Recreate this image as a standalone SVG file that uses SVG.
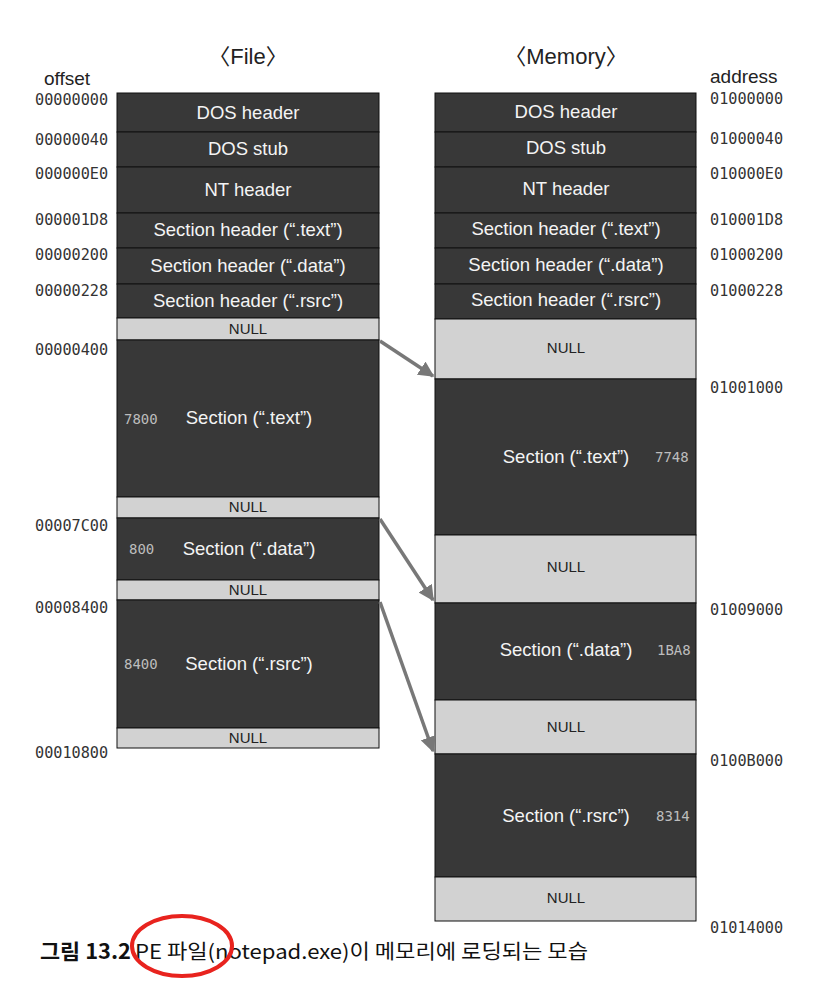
<svg xmlns="http://www.w3.org/2000/svg" width="822" height="1004" viewBox="0 0 822 1004">
<style>
.dk{fill:#383838;stroke:#111;stroke-width:1}
.nl{fill:#d2d2d2;stroke:#111;stroke-width:1}
.lbl{font-family:"Liberation Sans",Arial,sans-serif;font-size:18.5px;fill:#f4f4f4;text-anchor:middle}
.nlt{font-family:"Liberation Sans",Arial,sans-serif;font-size:15px;fill:#222;text-anchor:middle}
.adr{font-family:"DejaVu Sans Mono",monospace;font-size:15.2px;fill:#333}
.sz{font-family:"DejaVu Sans Mono",monospace;font-size:14px;fill:#bdbdbd}
.ttl{font-family:"Liberation Sans","Noto Sans CJK KR",sans-serif;font-size:22px;fill:#222;text-anchor:middle}
.hd{font-family:"Liberation Sans",Arial,sans-serif;font-size:19px;fill:#222}
.arr{stroke:#787878;stroke-width:3.5;fill:none;marker-end:url(#ah)}
</style>
<defs>
<marker id="ah" viewBox="0 0 10 10" refX="9" refY="5" markerWidth="4.5" markerHeight="4.5" orient="auto" markerUnits="strokeWidth">
<path d="M0,0 L10,5 L0,10 z" fill="#787878"/>
</marker>
</defs>
<rect width="822" height="1004" fill="#fff"/>
<text class="ttl" x="248" y="64">〈File〉</text>
<text class="ttl" x="566" y="64">〈Memory〉</text>
<text class="hd" x="44" y="85">offset</text>
<text class="hd" x="710" y="83">address</text>

<g id="file">
<g id="f-dos-header"><rect class="dk" x="117" y="93" width="262" height="39"/><text class="lbl" x="248" y="119">DOS header</text></g>
<g id="f-dos-stub"><rect class="dk" x="117" y="132" width="262" height="35"/><text class="lbl" x="248" y="155">DOS stub</text></g>
<g id="f-nt-header"><rect class="dk" x="117" y="167" width="262" height="46"/><text class="lbl" x="248" y="196">NT header</text></g>
<g id="f-sh-text"><rect class="dk" x="117" y="213" width="262" height="35"/><text class="lbl" x="248" y="236">Section header (“.text”)</text></g>
<g id="f-sh-data"><rect class="dk" x="117" y="248" width="262" height="36"/><text class="lbl" x="248" y="272">Section header (“.data”)</text></g>
<g id="f-sh-rsrc"><rect class="dk" x="117" y="284" width="262" height="34"/><text class="lbl" x="248" y="307">Section header (“.rsrc”)</text></g>
<g id="f-null1"><rect class="nl" x="117" y="318" width="262" height="22"/><text class="nlt" x="248" y="334">NULL</text></g>
<g id="f-text"><rect class="dk" x="117" y="340" width="262" height="157"/><text class="lbl" x="249" y="424">Section (“.text”)</text><text class="sz" x="124" y="424">7800</text></g>
<g id="f-null2"><rect class="nl" x="117" y="497" width="262" height="21"/><text class="nlt" x="248" y="512">NULL</text></g>
<g id="f-data"><rect class="dk" x="117" y="518" width="262" height="62"/><text class="lbl" x="249" y="555">Section (“.data”)</text><text class="sz" x="129" y="554">800</text></g>
<g id="f-null3"><rect class="nl" x="117" y="580" width="262" height="20"/><text class="nlt" x="248" y="595">NULL</text></g>
<g id="f-rsrc"><rect class="dk" x="117" y="600" width="262" height="128"/><text class="lbl" x="249" y="670">Section (“.rsrc”)</text><text class="sz" x="124" y="669">8400</text></g>
<g id="f-null4"><rect class="nl" x="117" y="728" width="262" height="20"/><text class="nlt" x="248" y="743">NULL</text></g>
</g>

<g id="memory">
<g id="m-dos-header"><rect class="dk" x="435" y="93" width="261" height="39"/><text class="lbl" x="566" y="118">DOS header</text></g>
<g id="m-dos-stub"><rect class="dk" x="435" y="132" width="261" height="35"/><text class="lbl" x="566" y="154">DOS stub</text></g>
<g id="m-nt-header"><rect class="dk" x="435" y="167" width="261" height="46"/><text class="lbl" x="566" y="195">NT header</text></g>
<g id="m-sh-text"><rect class="dk" x="435" y="213" width="261" height="35"/><text class="lbl" x="566" y="235">Section header (“.text”)</text></g>
<g id="m-sh-data"><rect class="dk" x="435" y="248" width="261" height="36"/><text class="lbl" x="566" y="271">Section header (“.data”)</text></g>
<g id="m-sh-rsrc"><rect class="dk" x="435" y="284" width="261" height="35"/><text class="lbl" x="566" y="306">Section header (“.rsrc”)</text></g>
<g id="m-null1"><rect class="nl" x="435" y="319" width="261" height="60"/><text class="nlt" x="566" y="353">NULL</text></g>
<g id="m-text"><rect class="dk" x="435" y="379" width="261" height="156"/><text class="lbl" x="566" y="463">Section (“.text”)</text><text class="sz" x="655" y="462">7748</text></g>
<g id="m-null2"><rect class="nl" x="435" y="535" width="261" height="68"/><text class="nlt" x="566" y="572">NULL</text></g>
<g id="m-data"><rect class="dk" x="435" y="603" width="261" height="97"/><text class="lbl" x="566" y="656">Section (“.data”)</text><text class="sz" x="657" y="655">1BA8</text></g>
<g id="m-null3"><rect class="nl" x="435" y="700" width="261" height="54"/><text class="nlt" x="566" y="732">NULL</text></g>
<g id="m-rsrc"><rect class="dk" x="435" y="754" width="261" height="123"/><text class="lbl" x="566" y="822">Section (“.rsrc”)</text><text class="sz" x="656" y="821">8314</text></g>
<g id="m-null4"><rect class="nl" x="435" y="877" width="261" height="44"/><text class="nlt" x="566" y="903">NULL</text></g>
</g>

<g id="offsets">
<text class="adr" x="35" y="105">00000000</text>
<text class="adr" x="35" y="145">00000040</text>
<text class="adr" x="35" y="179">000000E0</text>
<text class="adr" x="35" y="225">000001D8</text>
<text class="adr" x="35" y="260">00000200</text>
<text class="adr" x="35" y="296">00000228</text>
<text class="adr" x="35" y="355">00000400</text>
<text class="adr" x="35" y="531">00007C00</text>
<text class="adr" x="35" y="613">00008400</text>
<text class="adr" x="35" y="758">00010800</text>
</g>
<g id="addresses">
<text class="adr" x="710" y="104">01000000</text>
<text class="adr" x="710" y="144">01000040</text>
<text class="adr" x="710" y="179">010000E0</text>
<text class="adr" x="710" y="225">010001D8</text>
<text class="adr" x="710" y="260">01000200</text>
<text class="adr" x="710" y="296">01000228</text>
<text class="adr" x="710" y="393">01001000</text>
<text class="adr" x="710" y="615">01009000</text>
<text class="adr" x="710" y="766">0100B000</text>
<text class="adr" x="710" y="933">01014000</text>
</g>

<g id="connectors">
<line class="arr" x1="380" y1="341" x2="433" y2="376"/>
<line class="arr" x1="380" y1="519" x2="433" y2="600"/>
<line class="arr" x1="380" y1="602" x2="433" y2="751"/>
</g>

<g id="caption">
<text x="40" y="959" font-family="'Noto Sans CJK KR',sans-serif" font-size="20" fill="#111"><tspan font-weight="bold" font-size="21" textLength="91" lengthAdjust="spacingAndGlyphs">그림 13.2</tspan><tspan x="135" textLength="453" lengthAdjust="spacingAndGlyphs">PE 파일(notepad.exe)이 메모리에 로딩되는 모습</tspan></text>
<ellipse cx="182" cy="946" rx="50" ry="30" fill="none" stroke="#e8231e" stroke-width="4"/>
</g>
</svg>
